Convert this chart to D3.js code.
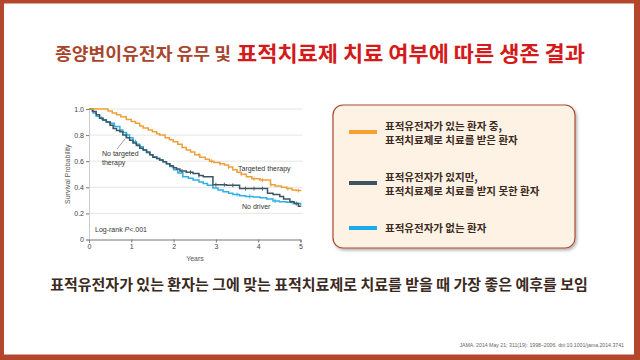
<!DOCTYPE html>
<html><head><meta charset="utf-8">
<script src="https://cdn.jsdelivr.net/npm/d3@7"></script>
<style>
html,body{margin:0;padding:0;background:#fff;}
svg{display:block;}
</style></head>
<body>
<svg id="c" width="640" height="360"></svg>
<script>
// ---- data ----
const titlePartA = "종양변이유전자 유무 및";
const titlePartB = "표적치료제 치료 여부에 따른 생존 결과";
const conclusion = "표적유전자가 있는 환자는 그에 맞는 표적치료제로 치료를 받을 때 가장 좋은 예후를 보임";
const citation = "JAMA. 2014 May 21; 311(19): 1998–2006. doi:10.1001/jama.2014.3741";

const yTicks = [0, 0.2, 0.4, 0.6, 0.8, 1.0];
const yTickLabels = ["0", "0.2", "0.4", "0.6", "0.8", "1.0"];
const xTicks = [0, 1, 2, 3, 4, 5];

const targetedT = [0,0.45,0.55,0.65,0.75,0.88,1.0,1.1,1.2,1.28,1.4,1.5,1.6,1.67,1.8,1.9,1.99,2.1,2.2,2.3,2.4,2.5,2.62,2.75,2.85,2.95,3.09,3.2,3.3,3.4,3.5,3.6,3.72,3.85,4.04,4.29,4.4,4.55,4.67,4.8,4.9,5.0];
const targetedS = [1.0,0.985,0.97,0.955,0.94,0.92,0.905,0.89,0.87,0.855,0.84,0.825,0.81,0.80,0.78,0.765,0.75,0.73,0.705,0.685,0.67,0.65,0.63,0.615,0.60,0.59,0.58,0.57,0.555,0.535,0.515,0.50,0.48,0.465,0.455,0.42,0.41,0.40,0.39,0.38,0.375,0.37];
const targetedCensor = [2.6,2.9,3.1,3.3,3.6,3.9,4.1,4.3,4.7,4.95];

const noTargetT = [0,0.08,0.17,0.25,0.33,0.41,0.5,0.57,0.65,0.73,0.8,0.88,0.96,1.04,1.12,1.2,1.28,1.36,1.44,1.51,1.6,1.67,1.75,1.83,1.91,1.99,2.07,2.15,2.3,2.46,2.6,2.7,2.93,3.25,3.56,4.22,4.35,4.51,4.6,4.75,4.85,4.95,5.0];
const noTargetS = [1.0,0.98,0.955,0.93,0.915,0.90,0.875,0.85,0.835,0.825,0.80,0.78,0.76,0.74,0.72,0.70,0.685,0.67,0.65,0.63,0.62,0.61,0.595,0.58,0.565,0.55,0.54,0.525,0.515,0.505,0.49,0.48,0.42,0.415,0.39,0.355,0.345,0.33,0.31,0.29,0.275,0.255,0.25];
const noTargetCensor = [2.2,2.4,2.6,3.0,3.2,3.4,3.7,3.9,4.1,4.9];

const noDriverT = [0,0.1,0.17,0.25,0.33,0.41,0.49,0.6,0.73,0.8,0.88,0.96,1.04,1.12,1.2,1.28,1.36,1.44,1.51,1.6,1.67,1.75,1.83,1.91,2.0,2.1,2.22,2.35,2.46,2.6,2.7,2.8,2.93,3.05,3.17,3.3,3.4,3.56,3.7,3.88,4.04,4.2,4.35,4.5,4.67,4.85,5.0];
const noDriverS = [1.0,0.97,0.945,0.93,0.915,0.90,0.89,0.865,0.84,0.82,0.80,0.78,0.75,0.73,0.71,0.685,0.665,0.65,0.635,0.62,0.61,0.595,0.58,0.56,0.535,0.51,0.48,0.47,0.455,0.44,0.43,0.415,0.395,0.38,0.366,0.355,0.345,0.335,0.33,0.325,0.32,0.31,0.295,0.29,0.285,0.275,0.265];
const noDriverCensor = [0.3,0.5,0.9,1.1,3.5,3.8,4.4,4.8];

const seriesNames = ["Targeted therapy", "No targeted therapy", "No driver"];
const seriesColors = ["#eea03a", "#3d5666", "#2cb0e8"];
const legendLines = [
  ["표적유전자가 있는 환자 중,", "표적치료제로 치료를 받은 환자"],
  ["표적유전자가 있지만,", "표적치료제로 치료를 받지 못한 환자"],
  ["표적유전자가 없는 환자"]
];
const legendColors = ["#f5a02f", "#3d5262", "#1eaae8"];

// ---- drawing ----
const svg = d3.select("#c");
const defs = svg.append("defs");
const f = defs.append("filter").attr("id","sh").attr("x","-10%").attr("y","-10%").attr("width","130%").attr("height","130%");
f.append("feDropShadow").attr("dx",1.5).attr("dy",2).attr("stdDeviation",1.5).attr("flood-color","#000").attr("flood-opacity",0.3);

// frame
svg.append("rect").attr("x",2).attr("y",1.5).attr("width",634).attr("height",355)
  .attr("fill","#fff").attr("stroke","#b4462c").attr("stroke-width",4);
svg.append("rect").attr("x",634).attr("y",0).attr("width",6).attr("height",360).attr("fill","#b4462c");
svg.append("rect").attr("x",0).attr("y",355).attr("width",640).attr("height",5).attr("fill","#b4462c");

const KR = "'Noto Sans CJK KR','Noto Sans',sans-serif";

// title
svg.append("text").attr("x",55).attr("y",59.5)
  .attr("font-family",KR).attr("font-weight","bold").attr("fill","#a8452c").attr("font-size",17)
  .attr("textLength",176).attr("lengthAdjust","spacingAndGlyphs").text(titlePartA);
svg.append("text").attr("x",237).attr("y",60.5)
  .attr("font-family",KR).attr("font-weight","bold").attr("fill","#d41a1a").attr("font-size",21)
  .attr("textLength",348).attr("lengthAdjust","spacingAndGlyphs").text(titlePartB);

// chart
const x = d3.scaleLinear().domain([0,5]).range([89,300.5]);
const y = d3.scaleLinear().domain([0,1]).range([239.5,109]);
const g = svg.append("g").attr("font-family","'Liberation Sans',Arial,sans-serif");

g.selectAll("line.grid").data(yTicks.filter(d=>d>0)).join("line").attr("class","grid")
  .attr("x1",x(0)).attr("x2",x(5)+2).attr("y1",d=>y(d)).attr("y2",d=>y(d))
  .attr("stroke","#dedede").attr("stroke-width",0.8);

const xAxis = g.append("g").attr("transform",`translate(0,${y(0)})`)
  .call(d3.axisBottom(x).tickValues(xTicks).tickFormat(d3.format("d")).tickSize(3).tickPadding(2));
xAxis.select(".domain").attr("stroke","#777");
xAxis.selectAll(".tick line").attr("stroke","#777");
xAxis.selectAll("text").attr("font-size",7).attr("fill","#444");

const yAxis = g.append("g").attr("transform",`translate(${x(0)},0)`)
  .call(d3.axisLeft(y).tickValues(yTicks).tickFormat((d,i)=>yTickLabels[i]).tickSize(3).tickPadding(2));
yAxis.select(".domain").attr("stroke","#aaa").attr("stroke-width",0.6);
yAxis.selectAll(".tick line").attr("stroke","#777");
yAxis.selectAll("text").attr("font-size",7).attr("fill","#444");

g.append("text").attr("transform",`translate(70,${y(0.5)}) rotate(-90)`).attr("text-anchor","middle")
  .attr("font-size",7).attr("fill","#555").text("Survival Probability");
g.append("text").attr("x",195).attr("y",261).attr("text-anchor","middle")
  .attr("font-size",7).attr("fill","#555").text("Years");

const series = [
  {t:targetedT, s:targetedS, c:targetedCensor},
  {t:noTargetT, s:noTargetS, c:noTargetCensor},
  {t:noDriverT, s:noDriverS, c:noDriverCensor}
];
const line = d3.line().x(d=>x(d[0])).y(d=>y(d[1])).curve(d3.curveStepAfter);
const drawOrder = [2,1,0];
drawOrder.forEach(i=>{
  const sr = series[i];
  const pts = sr.t.map((t,k)=>[t, sr.s[k]]);
  g.append("path").attr("d",line(pts)).attr("fill","none").attr("stroke",seriesColors[i]).attr("stroke-width",1.5);
  const lookup = t => { let v = sr.s[0]; for (let k=0;k<sr.t.length;k++){ if (sr.t[k] <= t) v = sr.s[k]; } return v; };
  g.selectAll(null).data(sr.c).join("line")
    .attr("x1",d=>x(d)).attr("x2",d=>x(d)).attr("y1",d=>y(lookup(d))-2).attr("y2",d=>y(lookup(d))+2)
    .attr("stroke",seriesColors[i]).attr("stroke-width",0.9);
});

// annotations
g.append("text").attr("x",238).attr("y",171).attr("font-size",7).attr("fill","#333").text(seriesNames[0]);
g.append("text").attr("x",242).attr("y",209).attr("font-size",7).attr("fill","#333").text(seriesNames[2]);
g.append("text").attr("x",102).attr("y",156).attr("font-size",7).attr("fill","#333").text("No targeted");
g.append("text").attr("x",102).attr("y",165).attr("font-size",7).attr("fill","#333").text("therapy");
g.append("line").attr("x1",117).attr("y1",149).attr("x2",125).attr("y2",139).attr("stroke","#555").attr("stroke-width",0.6);
const lr = g.append("text").attr("x",95).attr("y",232).attr("font-size",7).attr("fill","#333");
lr.append("tspan").text("Log-rank ");
lr.append("tspan").attr("font-style","italic").text("P");
lr.append("tspan").text("<.001");

// legend
svg.append("rect").attr("x",333).attr("y",105).attr("width",242).attr("height",143).attr("rx",10)
  .attr("fill","#fdf2e4").attr("stroke","#a84a30").attr("stroke-width",1.2).attr("filter","url(#sh)");
const legY = [132, 183, 228];
const legTextY = [[130,144],[181,195],[232]];
legendLines.forEach((ls,i)=>{
  svg.append("line").attr("x1",349).attr("x2",377).attr("y1",legY[i]).attr("y2",legY[i])
    .attr("stroke",legendColors[i]).attr("stroke-width",4);
  ls.forEach((s,j)=>{
    svg.append("text").attr("x",385).attr("y",legTextY[i][j]).attr("font-family",KR).attr("font-weight","bold")
      .attr("font-size",10.5).attr("fill","#3b2a22").text(s);
  });
});

// conclusion
svg.append("text").attr("x",319).attr("y",289.5).attr("text-anchor","middle").attr("font-family",KR)
  .attr("font-weight","bold").attr("font-size",15).attr("fill","#3b2a22").text(conclusion);

svg.append("text").attr("x",624).attr("y",347).attr("text-anchor","end").attr("font-family","'Liberation Sans',sans-serif")
  .attr("font-size",5.2).attr("fill","#666").text(citation);
</script>
</body></html>
